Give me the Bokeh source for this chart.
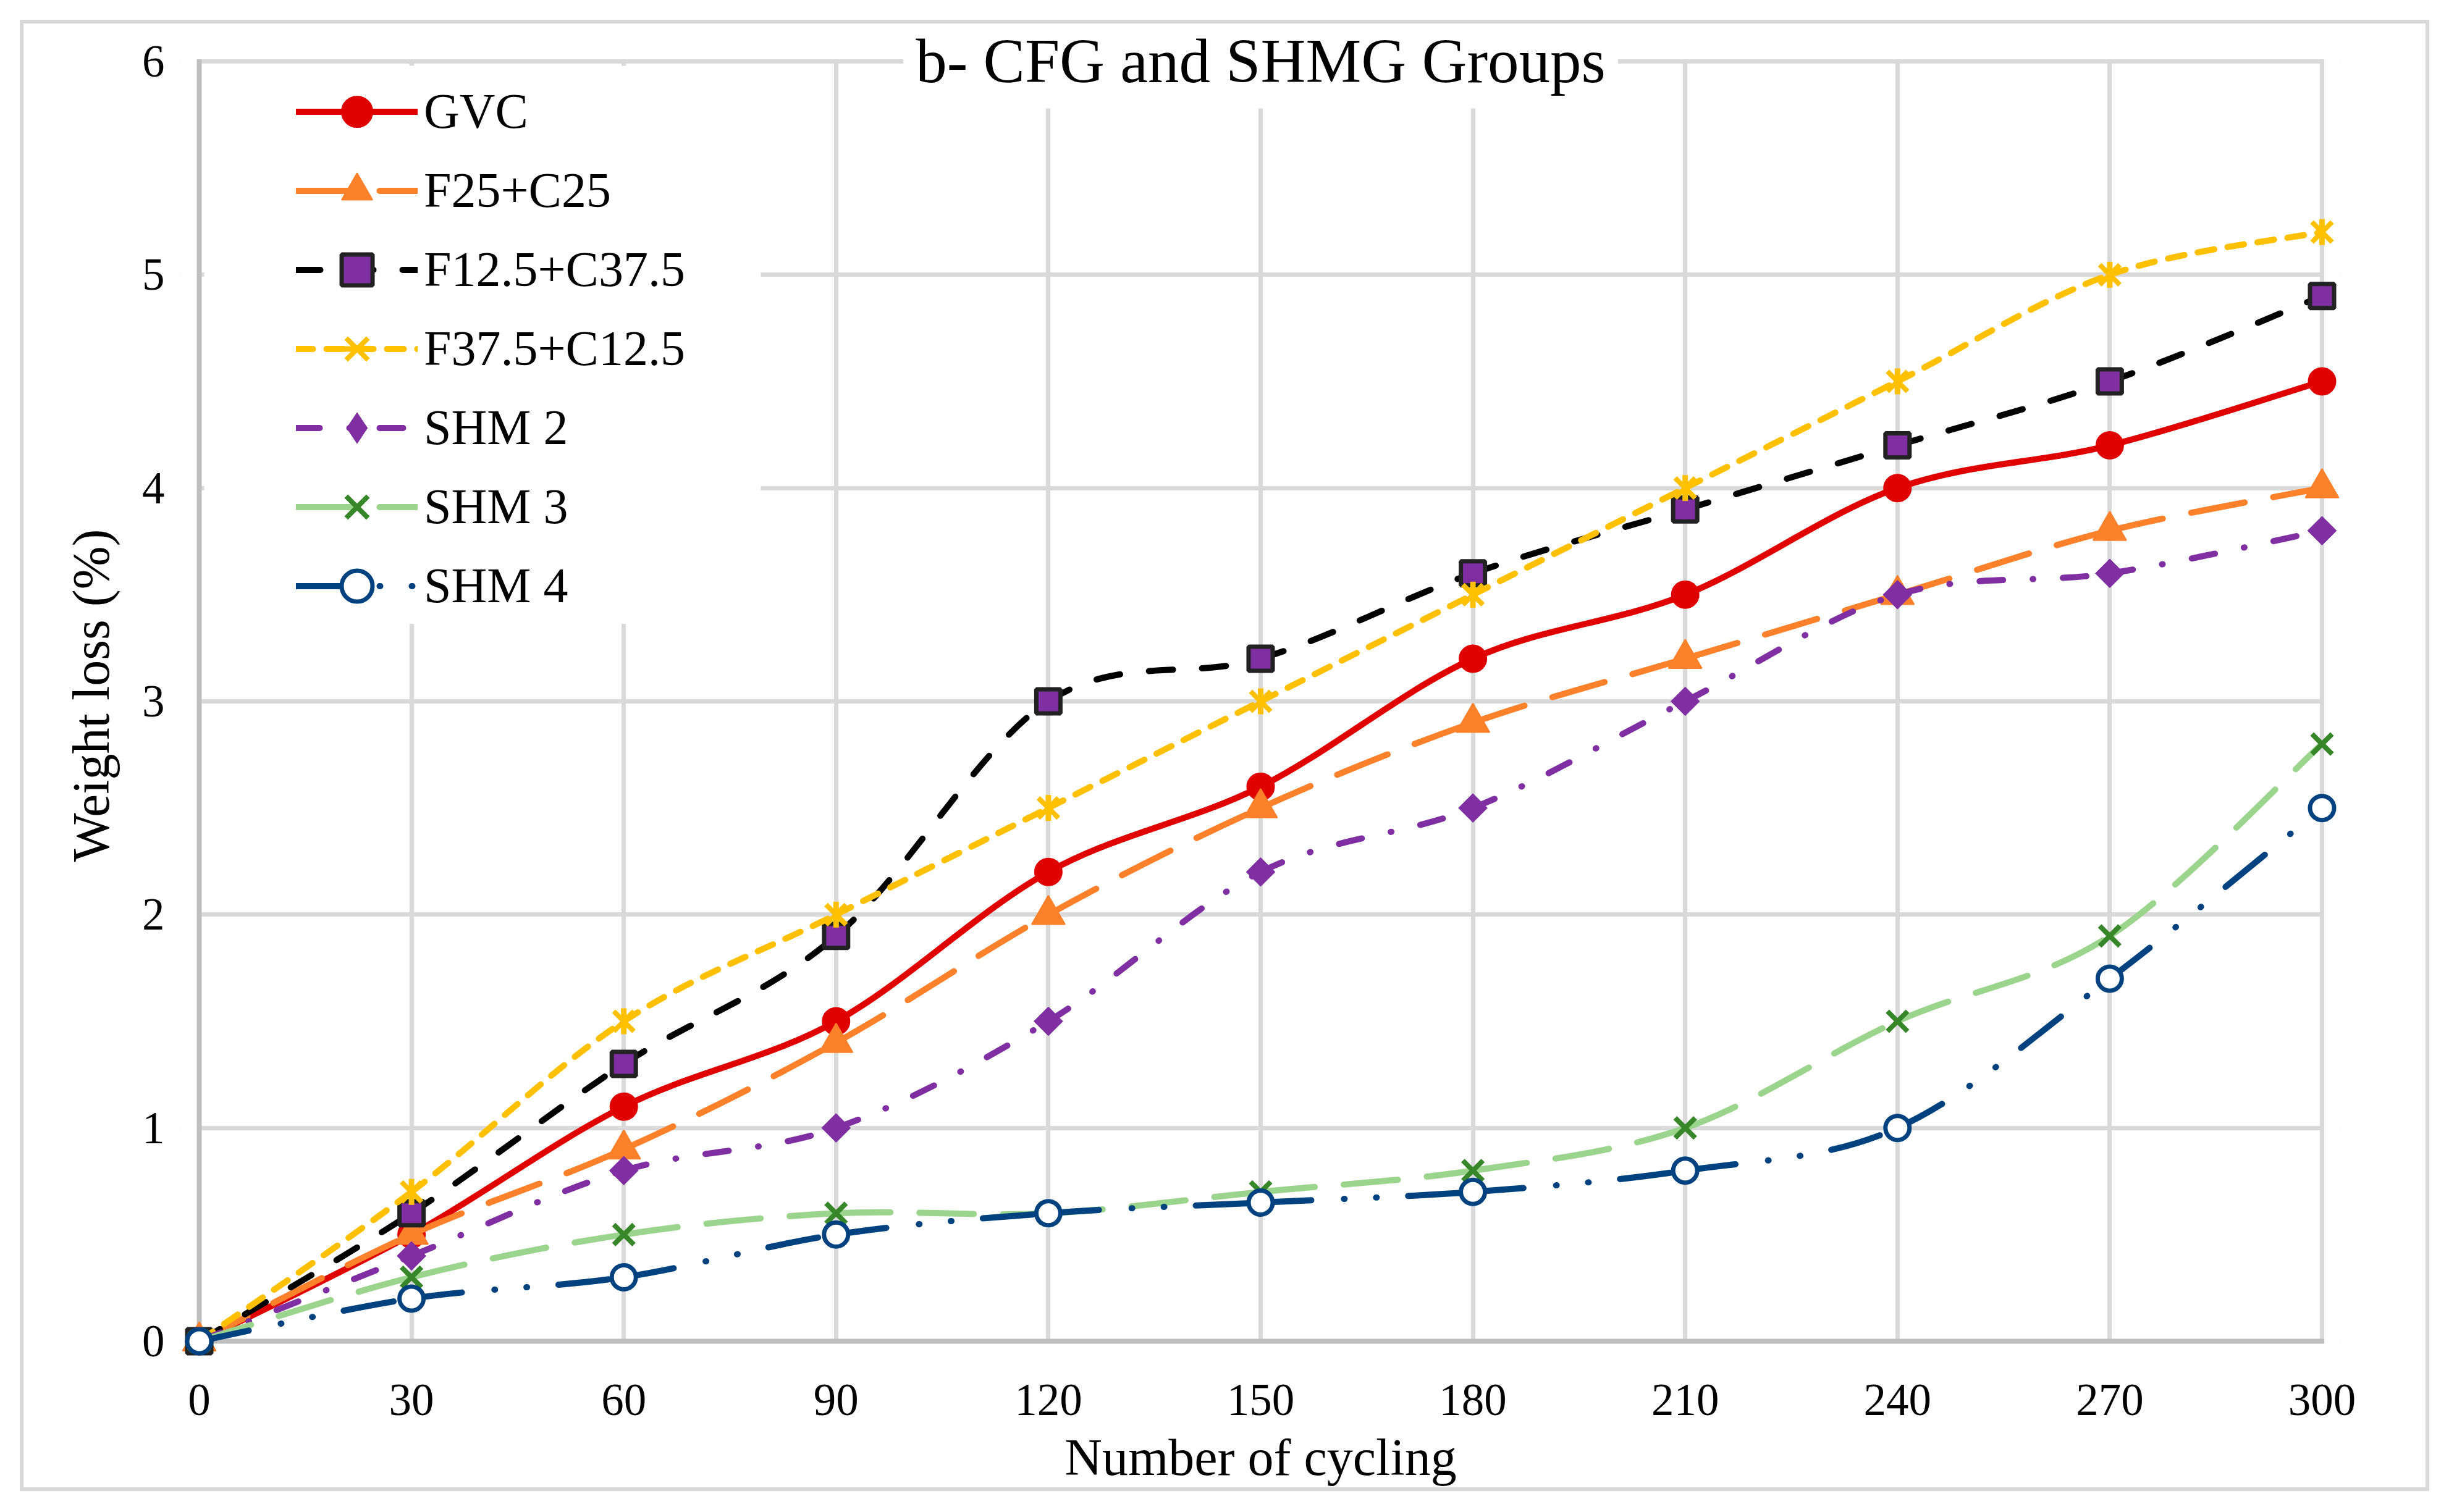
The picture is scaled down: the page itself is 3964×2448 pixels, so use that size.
import numpy as np
from bokeh.plotting import figure
from bokeh.models import Range1d, FixedTicker, BoxAnnotation, Label, Legend, LegendItem
from bokeh.embed import file_html
from bokeh.resources import INLINE

# ---------------- data ----------------
cycles = [0, 30, 60, 90, 120, 150, 180, 210, 240, 270, 300]
gvc = [0, 0.5, 1.1, 1.5, 2.2, 2.6, 3.2, 3.5, 4.0, 4.2, 4.5]
f25_c25 = [0, 0.5, 0.9, 1.4, 2.0, 2.5, 2.9, 3.2, 3.5, 3.8, 4.0]
f125_c375 = [0, 0.6, 1.3, 1.9, 3.0, 3.2, 3.6, 3.9, 4.2, 4.5, 4.9]
f375_c125 = [0, 0.7, 1.5, 2.0, 2.5, 3.0, 3.5, 4.0, 4.5, 5.0, 5.2]
shm2 = [0, 0.4, 0.8, 1.0, 1.5, 2.2, 2.5, 3.0, 3.5, 3.6, 3.8]
shm3 = [0, 0.3, 0.5, 0.6, 0.6, 0.7, 0.8, 1.0, 1.5, 1.9, 2.8]
shm4 = [0, 0.2, 0.3, 0.5, 0.6, 0.65, 0.7, 0.8, 1.0, 1.7, 2.5]
series_names = ["GVC", "F25+C25", "F12.5+C37.5", "F37.5+C12.5", "SHM 2", "SHM 3", "SHM 4"]
x_ticks = [0, 30, 60, 90, 120, 150, 180, 210, 240, 270, 300]
y_ticks = [0, 1, 2, 3, 4, 5, 6]
title_text = "b- CFG and SHMG Groups"
x_label = "Number of cycling"
y_label = "Weight loss (%)"

# ---------------- layout (pixels, page coordinates) ----------------
FONT = "Liberation Serif"
CANVAS = 38                   # page x / y of the canvas' top-left corner
W, H = 3888, 2370
X0_PX, X1_PX = 322, 3758      # page x of data 0 and 300
Y0_PX, Y1_PX = 2172, 99       # page y of data 0 and 6
PAD = 30
FRAME_TOP = 50
xs = (X1_PX - X0_PX) / (x_ticks[-1] - x_ticks[0])
ys = (Y0_PX - Y1_PX) / (y_ticks[-1] - y_ticks[0])
XMIN, XMAX = x_ticks[0], x_ticks[-1]
YMIN, YMAX = y_ticks[0], y_ticks[-1]
x_start, x_end = XMIN - PAD / xs, XMAX + PAD / xs
y_start, y_end = YMIN - PAD / ys, YMAX + (Y1_PX - FRAME_TOP) / ys

p = figure(width=W, height=H,
           x_range=Range1d(x_start, x_end), y_range=Range1d(y_start, y_end),
           output_backend="svg", toolbar_location=None,
           min_border_left=X0_PX - PAD - CANVAS,
           min_border_right=W - (X1_PX + PAD - CANVAS),
           min_border_top=FRAME_TOP - CANVAS,
           min_border_bottom=H - (Y0_PX + PAD - CANVAS))
p.margin = (CANVAS, 0, 0, CANVAS)
p.styles = {"outline": "6px solid #d9d9d9"}
p.outline_line_color = None
p.background_fill_color = "white"
p.border_fill_color = "white"

# grid
p.xgrid.ticker = FixedTicker(ticks=x_ticks)
p.ygrid.ticker = FixedTicker(ticks=y_ticks)
for g in (p.xgrid, p.ygrid):
    g.grid_line_color = "#d9d9d9"
    g.grid_line_width = 7

# axes
for ax in (p.xaxis, p.yaxis):
    ax.axis_line_color = None
    ax.major_tick_line_color = None
    ax.minor_tick_line_color = None
    ax.major_label_text_font = FONT
    ax.major_label_text_font_size = "73px"
    ax.major_label_text_color = "black"
    ax.axis_label_text_font = FONT
    ax.axis_label_text_font_size = "84px"
    ax.axis_label_text_font_style = "normal"
    ax.axis_label_text_color = "black"
p.xaxis.ticker = FixedTicker(ticks=x_ticks)
p.yaxis.ticker = FixedTicker(ticks=y_ticks)
p.xaxis.axis_label = x_label
p.yaxis.axis_label = y_label
p.xaxis.major_label_standoff = 34
p.yaxis.major_label_standoff = 20
p.xaxis.axis_label_standoff = 19
p.yaxis.axis_label_standoff = 33


def box(level="underlay", **kw):
    base = dict(fill_color="white", fill_alpha=1.0, line_color=None, level=level)
    base.update(kw)
    b = BoxAnnotation(**base)
    p.add_layout(b)
    return b

# white masks over the padding strips of the frame
box(left=x_start, right=XMIN, bottom=y_start, top=y_end)
box(left=XMAX, right=x_end, bottom=y_start, top=y_end)
box(left=x_start, right=x_end, bottom=y_start, top=YMIN)
box(left=x_start, right=x_end, bottom=YMAX, top=y_end)
# legend white area
box(left=(330 - X0_PX) / xs, right=(1231 - X0_PX) / xs,
    bottom=(Y0_PX - 1010) / ys, top=(Y0_PX - 106) / ys)
# frame lines: top and right light grey, left and bottom (axes) grey
G, A = 3.5, 4.0
box(left=XMIN, right=XMAX + G / xs, bottom=YMAX - G / ys, top=YMAX + G / ys, fill_color="#d9d9d9")
box(left=XMAX - G / xs, right=XMAX + G / xs, bottom=YMIN, top=YMAX + G / ys, fill_color="#d9d9d9")
box(left=XMIN - A / xs, right=XMIN + A / xs, bottom=YMIN - A / ys, top=YMAX + G / ys, fill_color="#bfbfbf")
box(left=XMIN - A / xs, right=XMAX + G / xs, bottom=YMIN - A / ys, top=YMIN + A / ys, fill_color="#bfbfbf")


def smooth_parts(xv, yv):
    x = np.asarray(xv, float)
    y = np.asarray(yv, float)
    xp = np.concatenate([[x[0]], x, [x[-1]]])
    yp = np.concatenate([[y[0]], y, [y[-1]]])
    i = np.arange(len(x) - 1)
    return dict(
        x0=x[:-1], y0=y[:-1], x1=x[1:], y1=y[1:],
        cx0=x[:-1] + (xp[i + 2] - xp[i]) / 6.0,
        cy0=y[:-1] + (yp[i + 2] - yp[i]) / 6.0,
        cx1=x[1:] - (xp[i + 3] - xp[i + 1]) / 6.0,
        cy1=y[1:] - (yp[i + 3] - yp[i + 1]) / 6.0,
    )

LW = 10
styles = [
    dict(color="#e00000", dash="solid",
         markers=[dict(marker="circle", size=44, fill_color="#e00000", line_color="#e00000", line_width=2)]),
    dict(color="#fd802a", dash="88 47",
         markers=[dict(marker="triangle", size=54, fill_color="#fd802a", line_color="#fd802a", line_width=2)]),
    dict(color="#000000", dash="39 47",
         markers=[dict(marker="square", size=39, fill_color="#7f2fa2", line_color="#222222", line_width=7)]),
    dict(color="#ffc000", dash="27 22",
         markers=[dict(marker="x", size=46, line_color="#ffc000", line_width=8),
                  dict(marker="dash", size=42, angle=np.pi / 2, line_color="#ffc000", line_width=9)]),
    dict(color="#7f2fa2", dash="38 48 1 48",
         markers=[dict(marker="square", size=33, angle=np.pi / 4, fill_color="#7f2fa2", line_color="#7f2fa2", line_width=1)],
         legend_marker=dict(marker="diamond", size=50, fill_color="#7f2fa2", line_color="#7f2fa2", line_width=1)),
    dict(color="#9bd48c", dash="88 47",
         markers=[dict(marker="x", size=46, line_color="#38862a", line_width=8)]),
    dict(color="#00427f", dash="82 53 1 51 1 51",
         markers=[dict(marker="circle", size=39, fill_color="white", line_color="#00427f", line_width=7)]),
]
series_values = [gvc, f25_c25, f125_c375, f375_c125, shm2, shm3, shm4]

items = []
for name, vals, st in zip(series_names, series_values, styles):
    parts = smooth_parts(cycles, vals)
    rl = p.bezier(**parts, line_color=st["color"], line_width=LW, line_dash=st["dash"],
                  line_cap="round", line_join="round")
    rends = [rl]
    marks = [p.scatter(cycles, vals, **mk) for mk in st["markers"]]
    if "legend_marker" in st:
        hidden = p.scatter(cycles, vals, **st["legend_marker"])
        hidden.visible = False
        rends.append(hidden)
    else:
        rends.extend(marks)
    items.append(LegendItem(label=name, renderers=rends))

legend = Legend(items=items, location=(187, 1190))
legend.glyph_width = 197
legend.glyph_height = 125
legend.label_height = 125
legend.spacing = 3
legend.padding = 10
legend.margin = 0
legend.label_standoff = 10
legend.label_text_font = FONT
legend.label_text_font_size = "80px"
legend.label_text_color = "black"
legend.background_fill_alpha = 0
legend.border_line_color = None
p.add_layout(legend, "center")

p.add_layout(Label(x=(XMIN + XMAX) / 2, y=YMAX, text=title_text, text_font=FONT,
                   text_font_size="101px", text_color="black", text_align="center",
                   text_baseline="middle", background_fill_color="white",
                   background_fill_alpha=1.0, padding=20))

open("out.html", "w").write(file_html(p, INLINE))
